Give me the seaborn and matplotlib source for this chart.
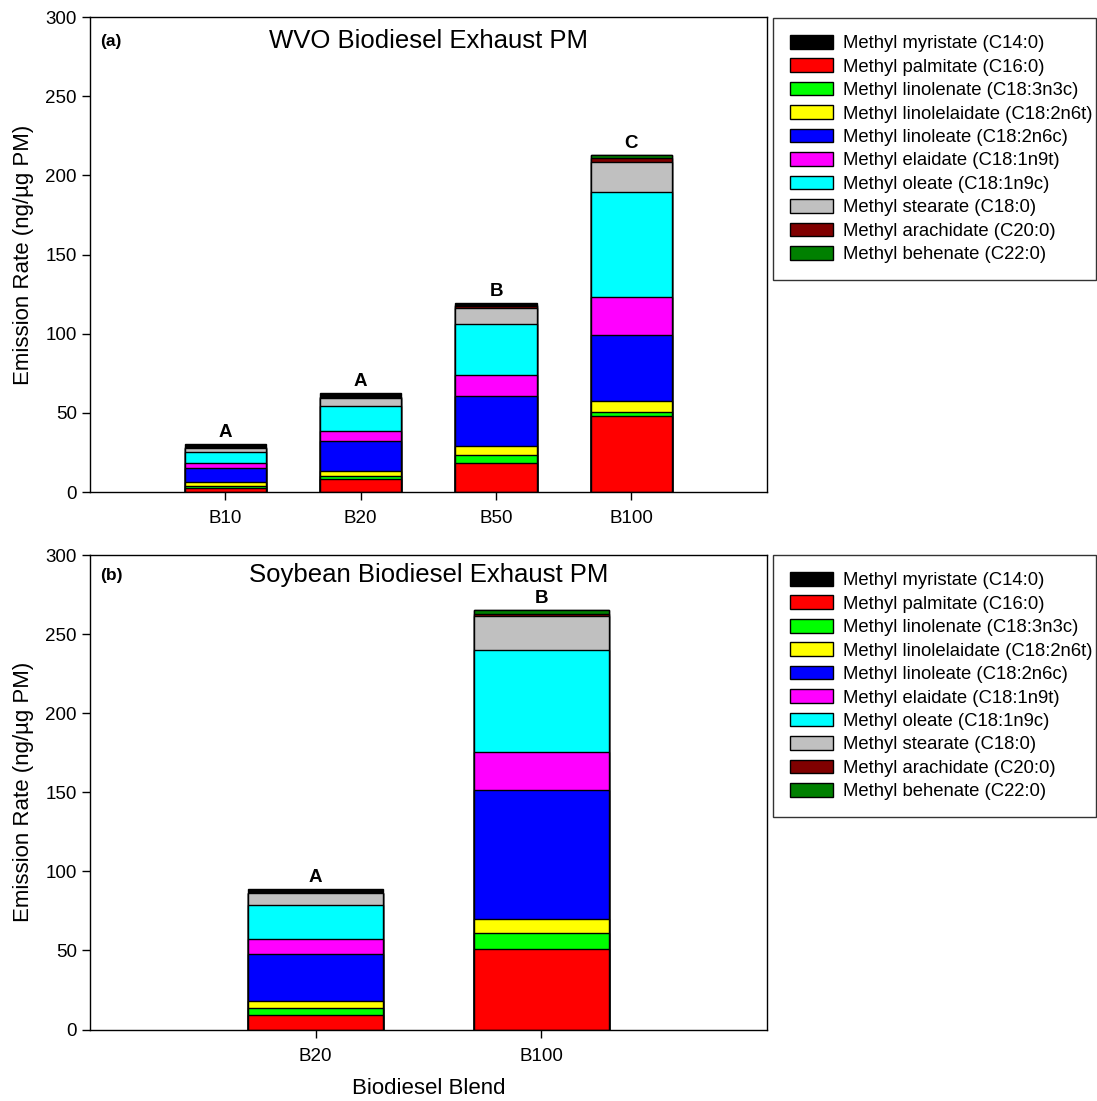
import numpy as np
import pandas as pd
import matplotlib
matplotlib.use("Agg")
import matplotlib.pyplot as plt
import seaborn as sns
from matplotlib.patches import Patch

# ---- data (ng/ug PM) ----
compounds = [
    "Methyl myristate (C14:0)",
    "Methyl palmitate (C16:0)",
    "Methyl linolenate (C18:3n3c)",
    "Methyl linolelaidate (C18:2n6t)",
    "Methyl linoleate (C18:2n6c)",
    "Methyl elaidate (C18:1n9t)",
    "Methyl oleate (C18:1n9c)",
    "Methyl stearate (C18:0)",
    "Methyl arachidate (C20:0)",
    "Methyl behenate (C22:0)",
]
colors = ["#000000", "#FF0000", "#00FF00", "#FFFF00", "#0000FF",
          "#FF00FF", "#00FFFF", "#C0C0C0", "#800000", "#008000"]

wvo_blends = ["B10", "B20", "B50", "B100"]
wvo_myristate = [1.9, 2.3, 0.8, 0.0]
wvo_palmitate = [2.5, 8.0, 18.3, 48.2]
wvo_linolenate = [1.0, 2.3, 5.1, 2.5]
wvo_linolelaidate = [2.6, 3.0, 5.5, 7.0]
wvo_linoleate = [9.3, 18.9, 31.7, 41.5]
wvo_elaidate = [3.1, 6.5, 13.3, 24.2]
wvo_oleate = [7.0, 15.8, 32.2, 66.3]
wvo_stearate = [2.5, 5.1, 10.3, 18.6]
wvo_arachidate = [0.1, 0.2, 1.0, 2.5]
wvo_behenate = [0.1, 0.2, 1.0, 2.1]
wvo_letters = ["A", "A", "B", "C"]

soy_blends = ["B20", "B100"]
soy_myristate = [2.0, 0.0]
soy_palmitate = [9.2, 50.8]
soy_linolenate = [4.6, 10.0]
soy_linolelaidate = [4.0, 9.4]
soy_linoleate = [29.9, 81.5]
soy_elaidate = [9.5, 23.8]
soy_oleate = [21.4, 64.7]
soy_stearate = [7.8, 21.0]
soy_arachidate = [0.1, 1.7]
soy_behenate = [0.1, 2.5]
soy_letters = ["A", "B"]

wvo = dict(zip(compounds, [wvo_myristate, wvo_palmitate, wvo_linolenate,
                           wvo_linolelaidate, wvo_linoleate, wvo_elaidate,
                           wvo_oleate, wvo_stearate, wvo_arachidate,
                           wvo_behenate]))
soy = dict(zip(compounds, [soy_myristate, soy_palmitate, soy_linolenate,
                           soy_linolelaidate, soy_linoleate, soy_elaidate,
                           soy_oleate, soy_stearate, soy_arachidate,
                           soy_behenate]))

# stacking order from the bottom of each bar
stack_order = [1, 2, 3, 4, 5, 6, 7, 8, 9, 0]

sns.set_style("ticks")
plt.rcParams["font.family"] = ["Liberation Sans", "DejaVu Sans"]
plt.rcParams["axes.linewidth"] = 1.0
plt.rcParams["text.color"] = "black"
plt.rcParams["axes.labelcolor"] = "black"


def stacked(ax, blends, series, letters, title, tag, n_slots, title_y):
    df = pd.DataFrame(series, index=blends)
    cum = df[[compounds[i] for i in stack_order]].cumsum(axis=1)
    # draw tallest cumulative layer first so lower layers sit on top
    for idx in reversed(stack_order):
        name = compounds[idx]
        d = pd.DataFrame({"blend": blends, "top": cum[name].values})
        sns.barplot(data=d, x="blend", y="top", order=blends, ax=ax,
                    color=colors[idx], saturation=1, width=0.6,
                    edgecolor="black", linewidth=1.0, errorbar=None)
    totals = cum[compounds[stack_order[-1]]].values
    for i, (t, lab) in enumerate(zip(totals, letters)):
        ax.text(i, t + 2.0, lab, ha="center", va="bottom",
                fontsize=13.5, fontweight="bold")
    ax.set_ylim(0, 300)
    ax.set_yticks(np.arange(0, 301, 50))
    ax.set_xlim(-1, n_slots - 1)
    ax.set_ylabel("Emission Rate (ng/\u00b5g PM)", fontsize=16, labelpad=8)
    ax.set_xlabel("")
    ax.tick_params(axis="both", labelsize=13.5, direction="out",
                   length=6, width=1, colors="black")
    ax.tick_params(axis="x", pad=7)
    for s in ax.spines.values():
        s.set_visible(True)
        s.set_color("black")
        s.set_linewidth(1.0)
    ax.text(0.015, title_y, tag, transform=ax.transAxes, fontsize=12.5,
            fontweight="bold", va="center", ha="left")
    ax.text(0.5, title_y, title, transform=ax.transAxes, fontsize=18.5,
            va="center", ha="center")


fig = plt.figure(figsize=(10.97, 11.01), dpi=100)
ax1 = fig.add_axes([0.082, 0.5531, 0.617, 0.4314])
ax2 = fig.add_axes([0.082, 0.0649, 0.617, 0.4310])

stacked(ax1, wvo_blends, wvo, wvo_letters, "WVO Biodiesel Exhaust PM", "(a)", 5, 0.949)
stacked(ax2, soy_blends, soy, soy_letters, "Soybean Biodiesel Exhaust PM", "(b)", 3, 0.957)
ax2.set_xlabel("Biodiesel Blend", fontsize=16, labelpad=10)

handles = [Patch(facecolor=c, edgecolor="black", linewidth=1.0) for c in colors]
for top in (0.9837, 0.4959):
    leg = fig.legend(handles, compounds, loc="upper left",
                     bbox_to_anchor=(0.7047, top, 0.2945, 0), mode="expand",
                     fontsize=13.3, frameon=True, fancybox=False,
                     handlelength=2.33, handleheight=0.76, handletextpad=0.54,
                     labelspacing=0.335, borderpad=0.92, borderaxespad=0)
    leg.get_frame().set_edgecolor("black")
    leg.get_frame().set_linewidth(1.0)

fig.savefig("out.png", dpi=100, facecolor="white")
